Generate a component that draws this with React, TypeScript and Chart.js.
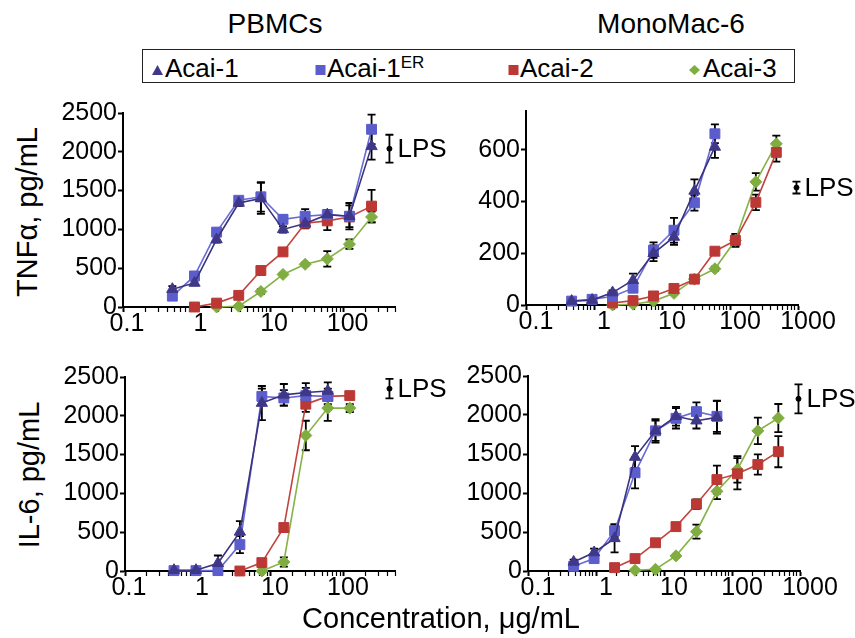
import React, { useEffect, useRef } from "react";
import { Chart, registerables } from "chart.js";

Chart.register(...registerables);

const FONT = "'Liberation Sans', Arial, Helvetica, sans-serif";

// ---------------- shared data ----------------
const concentrations = [0.469, 0.938, 1.875, 3.75, 7.5, 15, 30, 60, 120, 240, 480];
const seriesNames = ["Acai-1", "Acai-1ER", "Acai-2", "Acai-3"];
const xMultiples = [1, 2, 3, 4, 5, 6, 7, 8, 9];
const xTickValues = [0.1, 1, 10, 100, 1000];
const xTickLabels = ["0.1", "1", "10", "100", "1000"];
const lpsLabel = "LPS";

// ---------------- TNFα, PBMCs ----------------
const tnfPbmcStart = [0, 0, 1, 2];
const tnfPbmcAcai1 = [230, 310, 870, 1340, 1400, 1000, 1075, 1190, 1170, 2070];
const tnfPbmcAcai1Err = [40, 30, 40, 40, 200, 40, 60, 60, 140, 170];
const tnfPbmcAcai1ER = [140, 400, 965, 1375, 1420, 1130, 1170, 1190, 1170, 2290];
const tnfPbmcAcai1ERErr = [30, 40, 40, 40, 190, 50, 90, 60, 170, 190];
const tnfPbmcAcai2 = [0, 50, 150, 470, 710, 1080, 1110, 1160, 1300];
const tnfPbmcAcai2Err = [10, 10, 20, 30, 30, 40, 120, 40, 210];
const tnfPbmcAcai3 = [0, 10, 200, 420, 550, 620, 810, 1160];
const tnfPbmcAcai3Err = [5, 5, 30, 20, 20, 100, 60, 70];
const tnfPbmcLps = [420, 2040, 180]; // concentration, value, error
const tnfPbmcYTicks = [0, 500, 1000, 1500, 2000, 2500];

// ---------------- TNFα, MonoMac-6 ----------------
const tnfMonoStart = [0, 0, 2, 2];
const tnfMonoAcai1 = [15, 19, 48, 96, 200, 263, 441, 611];
const tnfMonoAcai1Err = [5, 5, 8, 25, 30, 30, 45, 42];
const tnfMonoAcai1ER = [15, 22, 33, 65, 212, 289, 395, 662];
const tnfMonoAcai1ERErr = [5, 5, 5, 10, 30, 48, 30, 36];
const tnfMonoAcai2 = [8, 17, 35, 64, 100, 208, 250, 397, 590];
const tnfMonoAcai2Err = [3, 3, 5, 8, 8, 10, 25, 30, 36];
const tnfMonoAcai3 = [0, 3, 15, 45, 100, 140, 250, 476, 623];
const tnfMonoAcai3Err = [2, 2, 3, 5, 8, 8, 20, 34, 32];
const tnfMonoLps = [950, 454, 23];
const tnfMonoYTicks = [0, 200, 400, 600];

// ---------------- IL-6, PBMCs ----------------
const il6PbmcStart = [0, 0, 3, 4];
const il6PbmcAcai1 = [10, 10, 100, 504, 2164, 2270, 2300, 2320];
const il6PbmcAcai1Err = [10, 10, 100, 140, 220, 140, 120, 110];
const il6PbmcAcai1ER = [5, 5, 5, 340, 2250, 2230, 2260, 2250];
const il6PbmcAcai1ERErr = [5, 5, 5, 110, 100, 100, 100, 100];
const il6PbmcAcai2 = [0, 108, 560, 2150, 2250, 2260];
const il6PbmcAcai2Err = [5, 10, 20, 100, 50, 30];
const il6PbmcAcai3 = [0, 116, 1746, 2099, 2099];
const il6PbmcAcai3Err = [5, 60, 190, 165, 50];
const il6PbmcLps = [420, 2350, 125];
const il6PbmcYTicks = [0, 500, 1000, 1500, 2000, 2500];

// ---------------- IL-6, MonoMac-6 ----------------
const il6MonoStart = [0, 0, 2, 3];
const il6MonoAcai1 = [116, 237, 418, 1461, 1797, 1983, 1927, 1970];
const il6MonoAcai1Err = [30, 50, 180, 140, 150, 120, 100, 210];
const il6MonoAcai1ER = [60, 159, 517, 1259, 1797, 1957, 2043, 1983];
const il6MonoAcai1ERErr = [30, 40, 80, 200, 130, 130, 120, 200];
const il6MonoAcai2 = [43, 159, 362, 569, 858, 1172, 1246, 1366, 1530];
const il6MonoAcai2Err = [10, 20, 20, 40, 60, 180, 200, 130, 200];
const il6MonoAcai3 = [9, 22, 194, 504, 1022, 1302, 1797, 1961];
const il6MonoAcai3Err = [10, 10, 20, 90, 100, 170, 170, 180];
const il6MonoLps = [950, 2207, 185];
const il6MonoYTicks = [0, 500, 1000, 1500, 2000, 2500];

// ---------------- styles ----------------
const seriesFill = ["#3f3888", "#5b5dcc", "#bb3835", "#80ad40"];
const seriesLine = ["#39327f", "#6a6cd6", "#c2423d", "#86b248"];
const seriesMarker = ["triangle", "rect", "rect", "rectRot"];
const seriesRadius = [6.5, 7, 7, 6];

type PanelDef = {
  starts: number[];
  values: number[][];
  errors: number[][];
  lps: number[];
  yTicks: number[];
  yMax: number;
  xMax: number;
  box: { left: number; top: number; width: number; height: number; yW: number; xH: number; padTop: number; padRight: number; labelOffset: number };
};

const panels: PanelDef[] = [
  {
    starts: tnfPbmcStart,
    values: [tnfPbmcAcai1, tnfPbmcAcai1ER, tnfPbmcAcai2, tnfPbmcAcai3],
    errors: [tnfPbmcAcai1Err, tnfPbmcAcai1ERErr, tnfPbmcAcai2Err, tnfPbmcAcai3Err],
    lps: tnfPbmcLps,
    yTicks: tnfPbmcYTicks,
    yMax: 2500,
    xMax: 500,
    box: { left: 50, top: 95, width: 410, height: 250, yW: 73, xH: 38, padTop: 18, padRight: 65, labelOffset: 4 },
  },
  {
    starts: tnfMonoStart,
    values: [tnfMonoAcai1, tnfMonoAcai1ER, tnfMonoAcai2, tnfMonoAcai3],
    errors: [tnfMonoAcai1Err, tnfMonoAcai1ERErr, tnfMonoAcai2Err, tnfMonoAcai3Err],
    lps: tnfMonoLps,
    yTicks: tnfMonoYTicks,
    yMax: 750,
    xMax: 1000,
    box: { left: 462, top: 95, width: 393, height: 250, yW: 64, xH: 40, padTop: 15, padRight: 57, labelOffset: 10 },
  },
  {
    starts: il6PbmcStart,
    values: [il6PbmcAcai1, il6PbmcAcai1ER, il6PbmcAcai2, il6PbmcAcai3],
    errors: [il6PbmcAcai1Err, il6PbmcAcai1ERErr, il6PbmcAcai2Err, il6PbmcAcai3Err],
    lps: il6PbmcLps,
    yTicks: il6PbmcYTicks,
    yMax: 2500,
    xMax: 500,
    box: { left: 50, top: 360, width: 410, height: 250, yW: 75, xH: 39, padTop: 17, padRight: 65, labelOffset: 4 },
  },
  {
    starts: il6MonoStart,
    values: [il6MonoAcai1, il6MonoAcai1ER, il6MonoAcai2, il6MonoAcai3],
    errors: [il6MonoAcai1Err, il6MonoAcai1ERErr, il6MonoAcai2Err, il6MonoAcai3Err],
    lps: il6MonoLps,
    yTicks: il6MonoYTicks,
    yMax: 2500,
    xMax: 1000,
    box: { left: 462, top: 360, width: 393, height: 250, yW: 66, xH: 39, padTop: 15, padRight: 55, labelOffset: 10 },
  },
];

const errorBarPlugin = {
  id: "errorBars",
  beforeDatasetsDraw(chart: any) {
    const ctx = chart.ctx;
    const yScale = chart.scales.y;
    ctx.save();
    ctx.strokeStyle = "#000";
    ctx.lineWidth = 1.8;
    chart.data.datasets.forEach((ds: any, di: number) => {
      if (!ds.errors) return;
      const meta = chart.getDatasetMeta(di);
      meta.data.forEach((el: any, i: number) => {
        const e = ds.errors[i];
        if (!e) return;
        const v = ds.data[i].y;
        const x = el.x;
        const yt = yScale.getPixelForValue(v + e);
        const yb = yScale.getPixelForValue(Math.max(0, v - e));
        ctx.beginPath();
        ctx.moveTo(x, yt);
        ctx.lineTo(x, yb);
        ctx.moveTo(x - 4, yt);
        ctx.lineTo(x + 4, yt);
        ctx.moveTo(x - 4, yb);
        ctx.lineTo(x + 4, yb);
        ctx.stroke();
      });
    });
    ctx.restore();
  },
  afterDatasetsDraw(chart: any) {
    const ctx = chart.ctx;
    chart.data.datasets.forEach((ds: any, di: number) => {
      if (!ds.isLps) return;
      const el = chart.getDatasetMeta(di).data[0];
      if (!el) return;
      ctx.save();
      ctx.font = `26px ${FONT}`;
      ctx.fillStyle = "#000";
      ctx.textAlign = "left";
      ctx.textBaseline = "middle";
      ctx.fillText(ds.label, el.x + 8, el.y + 1);
      ctx.restore();
    });
  },
};

function buildConfig(p: PanelDef): any {
  const datasets: any[] = p.values.map((vals, s) => ({
    label: seriesNames[s],
    data: vals.map((y, i) => ({ x: concentrations[p.starts[s] + i], y })),
    errors: p.errors[s],
    showLine: true,
    borderColor: seriesLine[s],
    borderWidth: 1.6,
    backgroundColor: seriesFill[s],
    pointBackgroundColor: seriesFill[s],
    pointBorderColor: seriesFill[s],
    pointBorderWidth: 1,
    pointStyle: seriesMarker[s],
    pointRadius: seriesRadius[s],
    clip: false,
  }));
  datasets.push({
    label: lpsLabel,
    isLps: true,
    data: [{ x: p.lps[0], y: p.lps[1] }],
    errors: [p.lps[2]],
    showLine: false,
    pointStyle: "circle",
    pointRadius: 2.5,
    pointBackgroundColor: "#000",
    pointBorderColor: "#000",
    clip: false,
  });
  const b = p.box;
  return {
    type: "scatter",
    data: { datasets },
    plugins: [errorBarPlugin],
    options: {
      animation: false,
      responsive: false,
      maintainAspectRatio: false,
      devicePixelRatio: 1,
      events: [],
      layout: { padding: { left: 0, right: b.padRight, top: b.padTop, bottom: 0 } },
      plugins: { legend: { display: false }, tooltip: { enabled: false } },
      scales: {
        x: {
          type: "logarithmic",
          min: 0.1,
          max: p.xMax,
          afterFit: (s: any) => {
            s.height = b.xH;
          },
          afterBuildTicks: (s: any) => {
            const ticks: any[] = [];
            for (let e = -1; Math.pow(10, e) <= p.xMax; e++) {
              for (const m of xMultiples) {
                const v = parseFloat((m * Math.pow(10, e)).toPrecision(6));
                if (v >= 0.1 && v <= p.xMax) ticks.push({ value: v, major: m === 1 });
              }
            }
            s.ticks = ticks;
          },
          border: { display: true, color: "#000", width: 2 },
          grid: {
            display: true,
            drawOnChartArea: false,
            drawTicks: true,
            tickLength: 5,
            tickColor: "#000",
            tickWidth: (c: any) => (c.tick && c.tick.major ? 2 : 1.2),
          },
          ticks: {
            autoSkip: false,
            maxRotation: 0,
            minRotation: 0,
            color: "#000",
            padding: -3,
            labelOffset: b.labelOffset,
            font: { family: FONT, size: 25 },
            callback: (value: number) => {
              const idx = xTickValues.findIndex((t) => Math.abs(t - value) < 1e-9);
              return idx >= 0 ? xTickLabels[idx] : "";
            },
          },
        },
        y: {
          type: "linear",
          min: 0,
          max: p.yMax,
          afterFit: (s: any) => {
            s.width = b.yW;
          },
          afterBuildTicks: (s: any) => {
            s.ticks = p.yTicks.map((v) => ({ value: v }));
          },
          border: { display: true, color: "#000", width: 2 },
          grid: {
            display: true,
            drawOnChartArea: false,
            drawTicks: true,
            tickLength: 5,
            tickColor: "#000",
            tickWidth: 2,
          },
          ticks: {
            color: "#000",
            padding: 1,
            font: { family: FONT, size: 25 },
            callback: (value: number) => String(value),
          },
        },
      },
    },
  };
}

function Panel({ def }: { def: PanelDef }) {
  const ref = useRef<HTMLCanvasElement | null>(null);
  useEffect(() => {
    if (!ref.current) return;
    const chart = new Chart(ref.current, buildConfig(def));
    return () => chart.destroy();
  }, [def]);
  const b = def.box;
  return (
    <canvas
      ref={ref}
      width={b.width}
      height={b.height}
      style={{ position: "absolute", left: b.left, top: b.top, width: b.width, height: b.height }}
    />
  );
}

const txt = (extra: any): any => ({
  position: "absolute",
  fontFamily: FONT,
  color: "#000",
  whiteSpace: "nowrap",
  lineHeight: 1,
  ...extra,
});

function Marker({ kind, color, x, y }: { kind: string; color: string; x: number; y: number }) {
  let shape: any;
  if (kind === "triangle") shape = <polygon points="0,10 5.5,0 11,10" fill={color} />;
  else if (kind === "rect") shape = <rect x="0.5" y="0" width="10" height="10" fill={color} />;
  else shape = <polygon points="5.5,0 11,5 5.5,10 0,5" fill={color} />;
  return (
    <svg width="11" height="10" style={{ position: "absolute", left: x, top: y }}>
      {shape}
    </svg>
  );
}

export default function App() {
  return (
    <div style={{ position: "absolute", left: 0, top: 0, width: 855, height: 638, background: "#fff", overflow: "hidden" }}>
      <div style={txt({ left: 175, top: 10, width: 200, textAlign: "center", fontSize: 28 })}>PBMCs</div>
      <div style={txt({ left: 571, top: 10, width: 200, textAlign: "center", fontSize: 28 })}>MonoMac-6</div>

      <div style={{ position: "absolute", left: 142, top: 49, width: 653, height: 34, border: "1.5px solid #222", boxSizing: "border-box" }} />
      <Marker kind="triangle" color={seriesFill[0]} x={152} y={65} />
      <div style={txt({ left: 165, top: 55, fontSize: 26 })}>{seriesNames[0]}</div>
      <Marker kind="rect" color={seriesFill[1]} x={315} y={65} />
      <div style={txt({ left: 327, top: 55, fontSize: 26 })}>
        {seriesNames[1].slice(0, 6)}
        <span style={{ fontSize: 17, position: "relative", top: -9 }}>{seriesNames[1].slice(6)}</span>
      </div>
      <Marker kind="rect" color={seriesFill[2]} x={508} y={65} />
      <div style={txt({ left: 520, top: 55, fontSize: 26 })}>{seriesNames[2]}</div>
      <Marker kind="diamond" color={seriesFill[3]} x={689} y={65} />
      <div style={txt({ left: 703, top: 55, fontSize: 26 })}>{seriesNames[3]}</div>

      {panels.map((p, i) => (
        <Panel key={i} def={p} />
      ))}

      <div style={txt({ left: 27, top: 212, fontSize: 29, transform: "translate(-50%, -50%) rotate(-90deg)" })}>TNFα, pg/mL</div>
      <div style={txt({ left: 29, top: 475, fontSize: 29, transform: "translate(-50%, -50%) rotate(-90deg)" })}>IL-6, pg/mL</div>
      <div style={txt({ left: 281, top: 604, width: 320, textAlign: "center", fontSize: 29 })}>Concentration, μg/mL</div>
    </div>
  );
}
